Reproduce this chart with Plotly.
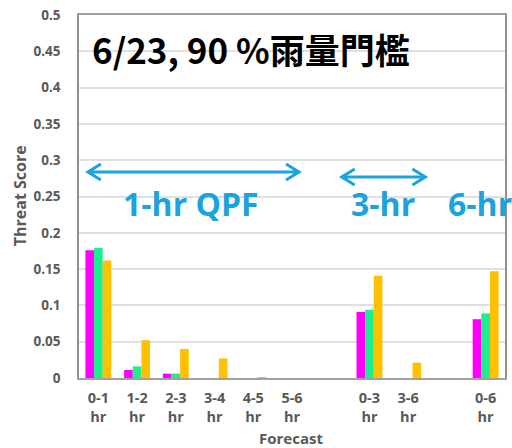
import plotly.graph_objects as go

categories = ["0-1<br>hr", "1-2<br>hr", "2-3<br>hr", "3-4<br>hr", "4-5<br>hr", "5-6<br>hr",
              "0-3<br>hr", "3-6<br>hr", "0-6<br>hr"]
category_order = ["0-1<br>hr", "1-2<br>hr", "2-3<br>hr", "3-4<br>hr", "4-5<br>hr", "5-6<br>hr", " ",
                  "0-3<br>hr", "3-6<br>hr", "  ", "0-6<br>hr"]
series_magenta = [0.176, 0.011, 0.006, 0.0, 0.0, 0.0, 0.091, 0.0, 0.081]
series_green = [0.179, 0.016, 0.006, 0.0, 0.0, 0.0, 0.094, 0.0, 0.089]
series_orange = [0.162, 0.052, 0.040, 0.027, 0.001, 0.0, 0.141, 0.021, 0.147]
y_ticks = [0, 0.05, 0.1, 0.15, 0.2, 0.25, 0.3, 0.35, 0.4, 0.45, 0.5]
y_tick_labels = ["0", "0.05", "0.1", "0.15", "0.2", "0.25", "0.3", "0.35", "0.4", "0.45", "0.5"]

W, H = 512, 448
L, R, T, B = 79, 5, 15, 70
pw, ph = W - L - R, H - T - B

def px(x):
    return (x - L) / pw

def py(y):
    return (H - B - y) / ph

fig = go.Figure()
for vals, col in [(series_magenta, "#FF00FF"), (series_green, "#1EEE8E"), (series_orange, "#FFC000")]:
    fig.add_trace(go.Bar(x=categories, y=vals, marker=dict(color=col, line=dict(width=0)),
                         showlegend=False))

gray = "#595959"
fig.update_layout(
    width=W, height=H,
    margin=dict(l=L, r=R, t=T, b=B),
    paper_bgcolor="white", plot_bgcolor="white",
    barmode="group", bargap=0.33, bargroupgap=0,
    font=dict(family="Open Sans", color=gray),
    xaxis=dict(type="category", categoryorder="array", categoryarray=category_order,
               range=[-0.5, 10.5], showgrid=False, showline=True, mirror=True,
               linecolor="#A0A0A0", linewidth=1.5, ticks="", ticklabelstandoff=6,
               tickfont=dict(family="Open Sans", size=14.5, color=gray, weight="bold")),
    yaxis=dict(range=[0, 0.5], tickvals=y_ticks, ticktext=y_tick_labels,
               showgrid=True, gridcolor="#E0E0E0", gridwidth=1.5,
               showline=True, mirror=True, linecolor="#909090", linewidth=1.5,
               ticks="", ticklabelstandoff=14, zeroline=False,
               tickfont=dict(family="Open Sans", size=13.5, color=gray, weight="bold")),
)

blue = "#1BA3DD"
anns = [
    dict(text="6/23, 90 %雨量門檻", x=px(90), y=py(49), xanchor="left", yanchor="middle",
         font=dict(family="Noto Sans CJK TC", size=35, color="black", weight="bold")),
    dict(text="1-hr QPF", x=px(192), y=py(203), xanchor="center", yanchor="middle",
         font=dict(family="Open Sans", size=32, color=blue, weight="bold")),
    dict(text="3-hr", x=px(384), y=py(203), xanchor="center", yanchor="middle",
         font=dict(family="Open Sans", size=32, color=blue, weight="bold")),
    dict(text="6-hr", x=px(448), y=py(203), xanchor="left", yanchor="middle",
         font=dict(family="Open Sans", size=32, color=blue, weight="bold")),
    dict(text="Threat Score", x=px(20), y=py(196), xanchor="center", yanchor="middle",
         textangle=-90, font=dict(family="Open Sans", size=16, color=gray, weight="bold")),
    dict(text="Forecast", x=px(292), y=py(438), xanchor="center", yanchor="middle",
         font=dict(family="Open Sans", size=15, color=gray, weight="bold")),
]
for a in anns:
    a.update(xref="paper", yref="paper", showarrow=False)
    fig.add_annotation(**a)

def double_arrow(x0, x1, y, hl=13, hh=8):
    path = (f"M {px(x0)},{py(y)} L {px(x1)},{py(y)} "
            f"M {px(x0 + hl)},{py(y - hh)} L {px(x0)},{py(y)} L {px(x0 + hl)},{py(y + hh)} "
            f"M {px(x1 - hl)},{py(y - hh)} L {px(x1)},{py(y)} L {px(x1 - hl)},{py(y + hh)}")
    fig.add_shape(type="path", path=path, xref="paper", yref="paper",
                  line=dict(color=blue, width=3))

double_arrow(88, 300, 172)
double_arrow(343, 427, 177)

fig.write_html("out.html", config={"displayModeBar": False},
               post_script="document.body.style.margin='0';")
